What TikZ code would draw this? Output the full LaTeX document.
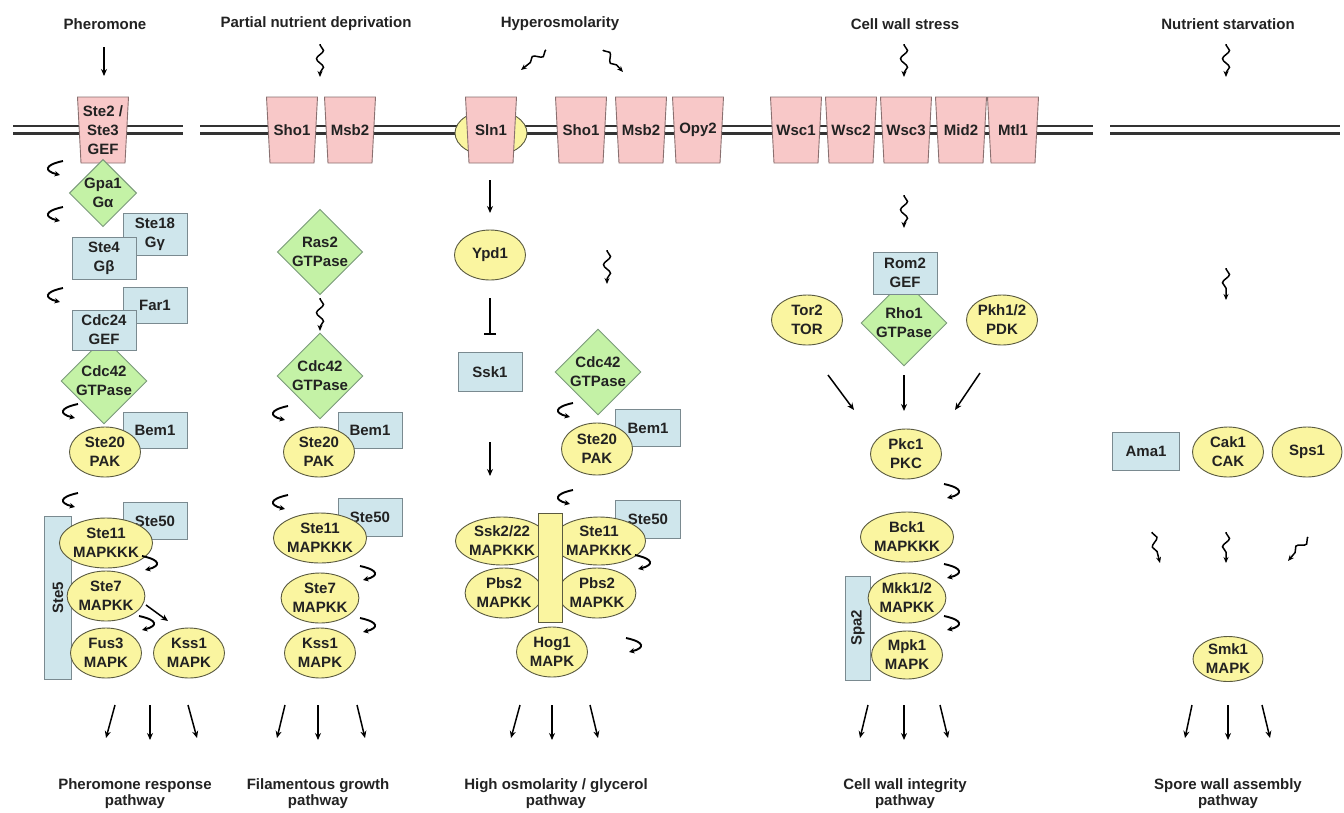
\documentclass[tikz,border=0pt]{standalone}
\usepackage{fontspec}
\usepackage{graphicx}
\setmainfont{Liberation Sans}
\usetikzlibrary{shapes.geometric,arrows.meta,decorations.pathmorphing}
\definecolor{pinkf}{HTML}{F8C8C8}
\definecolor{pinkd}{HTML}{8A7070}
\definecolor{greenf}{HTML}{C4F2A6}
\definecolor{greend}{HTML}{7A9A7A}
\definecolor{bluef}{HTML}{CFE6EC}
\definecolor{blued}{HTML}{7A8A90}
\definecolor{yelf}{HTML}{FAF5A0}
\definecolor{yeld}{HTML}{5A5A40}
\definecolor{txt}{HTML}{222222}
\definecolor{memb}{HTML}{333333}
\newcommand{\recep}[3]{%
  \filldraw[fill=pinkf, draw=pinkd, line width=0.9pt] (#2-25.5,97) -- (#2+25.5,97) -- (#2+22,163) -- (#2-22,163) -- cycle;
  \node[align=center, inner sep=0pt] (#1) at (#2,130) {#3};}
\begin{document}
\begin{tikzpicture}[x=1pt,y=-1pt,
  font=\fontsize{15}{19}\selectfont\bfseries, text=txt,
  gtp/.style={diamond, minimum width=64pt, minimum height=64pt, fill=greenf, draw=greend, line width=0.9pt, inner sep=0pt, align=center},
  bx/.style={rectangle, minimum width=64pt, minimum height=38pt, fill=bluef, draw=blued, line width=0.9pt, inner sep=0pt, align=center},
  kin/.style={ellipse, minimum width=71pt, minimum height=50pt, fill=yelf, draw=yeld, line width=0.9pt, inner sep=0pt, align=center},
  arr/.style={line width=1.5pt, -{Stealth[length=7pt,width=6pt]}},
  wav/.style={line width=1.5pt, decorate, decoration={snake, amplitude=3.5pt, segment length=17pt, pre length=1pt, post length=4pt}, -{Stealth[length=6pt,width=5pt]}},
  inh/.style={line width=1.5pt, -{Bar[width=12pt,line width=1.6pt]}},
  hk/.style={line width=1.9pt, -{Stealth[length=5.5pt,width=5.5pt]}},
  ttl/.style={align=center, font=\fontsize{15}{16}\selectfont\bfseries},
  hookl/.pic={\draw[hk] (8,-7) .. controls (-11,-3) and (-11,3) .. (5,7);},
  hookr/.pic={\draw[hk] (-8,-7) .. controls (11,-3) and (11,3) .. (-5,7);}
]
\useasboundingbox (0,0) rectangle (1344,812);
\fill[white] (0,0) rectangle (1344,812);

% titles
\node (tPher) at (105,24) {Pheromone};
\node (tPart) at (316,24) {Partial nutrient deprivation};
\node (tHyp) at (560,24) {Hyperosmolarity};
\node (tCws) at (905,24) {Cell wall stress};
\node (tNut) at (1228,24) {Nutrient starvation};

% bottom labels
\node[ttl] (bPher) at (135,794) {Pheromone response\\pathway};
\node[ttl] (bFil) at (318,794) {Filamentous growth\\pathway};
\node[ttl] (bHog) at (556,794) {High osmolarity / glycerol\\pathway};
\node[ttl] (bCwi) at (905,794) {Cell wall integrity\\pathway};
\node[ttl] (bSpo) at (1228,794) {Spore wall assembly\\pathway};

% membrane
\foreach \a/\b in {13/183, 200/1093, 1110/1340} {
  \draw[line width=2pt, memb] (\a,126) -- (\b,126);
  \draw[line width=3.2pt, memb] (\a,133.5) -- (\b,133.5);
}

% receptors
\recep{ste2}{103}{Ste2 /\\Ste3\\GEF}
\recep{sho1a}{292}{Sho1}
\recep{msb2a}{350}{Msb2}
\node[ellipse, fill=yelf, draw=yeld, line width=0.9pt, minimum width=72pt, minimum height=46pt, inner sep=0pt] (sln1bg) at (491,133) {};
\recep{sln1}{491}{Sln1}
\recep{sho1b}{581}{Sho1}
\recep{msb2b}{641}{Msb2}
\recep{opy2}{698}{Opy2}
\recep{wsc1}{796}{Wsc1}
\recep{wsc2}{851}{Wsc2}
\recep{wsc3}{906}{Wsc3}
\recep{mid2}{961}{Mid2}
\recep{mtl1}{1013}{Mtl1}

% stimulus arrows
\coordinate (s1a) at (104,47); \coordinate (s1b) at (104,76);
\draw[arr] (s1a) -- (s1b);
\coordinate (s2a) at (320,44); \coordinate (s2b) at (320,77);
\draw[wav] (s2a) -- (s2b);
\coordinate (s3a) at (546,50); \coordinate (s3b) at (521,70);
\draw[wav] (s3a) -- (s3b);
\coordinate (s4a) at (603,50); \coordinate (s4b) at (623,72);
\draw[wav] (s4a) -- (s4b);
\coordinate (s5a) at (904,44); \coordinate (s5b) at (904,77);
\draw[wav] (s5a) -- (s5b);
\coordinate (s6a) at (1226,44); \coordinate (s6b) at (1226,77);
\draw[wav] (s6a) -- (s6b);

% ---------------- pheromone pathway
\node[gtp, minimum height=60pt] (gpa1) at (103,193) {Gpa1\\Gα};
\node[bx, minimum height=42pt] (ste18) at (155,234) {Ste18\\Gγ};
\node[bx, minimum height=42pt] (ste4) at (104,258) {Ste4\\Gβ};
\node[bx, minimum height=36pt] (far1) at (155,305) {Far1};
\node[gtp, minimum height=62pt] (cdc42a) at (104,381) {Cdc42\\GTPase};
\node[bx, minimum height=40pt] (cdc24) at (104,330) {Cdc24\\GEF};
\node[bx, minimum height=36pt] (bem1a) at (155,430) {Bem1};
\node[kin] (ste20a) at (105,452) {Ste20\\PAK};
\node[bx, minimum height=37pt] (ste50a) at (155,521) {Ste50};
\node[bx, minimum width=27pt, minimum height=163pt] (ste5) at (58,598) {\rotatebox{90}{Ste5}};
\node[kin] (ste11a) at (106,543) {Ste11\\MAPKKK};
\node[kin] (ste7a) at (106,596) {Ste7\\MAPKK};
\node[kin] (fus3) at (106,653) {Fus3\\MAPK};
\node[kin] (kss1a) at (189,653) {Kss1\\MAPK};
\coordinate (k1a) at (146,605); \coordinate (k1b) at (168,621);
\draw[arr] (k1a) -- (k1b);
\pic at (55,168) {hookl};
\pic at (55,214) {hookl};
\pic at (55,295) {hookl};
\pic at (70,411) {hookl};
\pic at (70,500) {hookl};
\pic at (150,563) {hookr};
\pic at (147,623) {hookr};
\coordinate (o1a) at (115,705); \coordinate (o1b) at (106,738);
\coordinate (o2a) at (150,705); \coordinate (o2b) at (150,740);
\coordinate (o3a) at (188,705); \coordinate (o3b) at (197,738);
\draw[arr] (o1a) -- (o1b); \draw[arr] (o2a) -- (o2b); \draw[arr] (o3a) -- (o3b);

% ---------------- filamentous growth
\node[gtp, minimum height=70pt] (ras2) at (320,252) {Ras2\\GTPase};
\coordinate (f1a) at (320,298); \coordinate (f1b) at (320,331);
\draw[wav] (f1a) -- (f1b);
\node[gtp, minimum height=70pt] (cdc42b) at (320,376) {Cdc42\\GTPase};
\node[bx, minimum height=36pt] (bem1b) at (370,430) {Bem1};
\node[kin] (ste20b) at (319,452) {Ste20\\PAK};
\node[bx, minimum height=38pt] (ste50b) at (370,517) {Ste50};
\node[kin] (ste11b) at (320,538) {Ste11\\MAPKKK};
\node[kin] (ste7b) at (320,598) {Ste7\\MAPKK};
\node[kin] (kss1b) at (320,653) {Kss1\\MAPK};
\pic at (280,413) {hookl};
\pic at (280,502) {hookl};
\pic at (368,573) {hookr};
\pic at (368,625) {hookr};
\coordinate (o4a) at (285,705); \coordinate (o4b) at (277,738);
\coordinate (o5a) at (318,705); \coordinate (o5b) at (318,740);
\coordinate (o6a) at (357,705); \coordinate (o6b) at (365,738);
\draw[arr] (o4a) -- (o4b); \draw[arr] (o5a) -- (o5b); \draw[arr] (o6a) -- (o6b);

% ---------------- HOG pathway
\coordinate (h1a) at (490,180); \coordinate (h1b) at (490,213);
\draw[arr] (h1a) -- (h1b);
\node[kin] (ypd1) at (490,255) {Ypd1};
\coordinate (h2a) at (490,298); \coordinate (h2b) at (490,335);
\draw[inh] (h2a) -- (h2b);
\node[bx, minimum height=39pt] (ssk1) at (490,372) {Ssk1};
\coordinate (h3a) at (490,442); \coordinate (h3b) at (490,476);
\draw[arr] (h3a) -- (h3b);
\coordinate (h4a) at (607,250); \coordinate (h4b) at (607,284);
\draw[wav] (h4a) -- (h4b);
\node[gtp, minimum width=63pt, minimum height=70pt] (cdc42c) at (598,372) {Cdc42\\GTPase};
\node[bx, minimum width=65pt, minimum height=37pt] (bem1c) at (648,428) {Bem1};
\node[kin, minimum height=52pt] (ste20c) at (597,449) {Ste20\\PAK};
\node[bx, minimum width=65pt, minimum height=38pt] (ste50c) at (648,519) {Ste50};
\node[kin, minimum height=48pt] (ssk2) at (502,541) {Ssk2/22\\MAPKKK};
\node[kin, minimum height=48pt] (ste11c) at (599,541) {Ste11\\MAPKKK};
\node[kin] (pbs2a) at (504,593) {Pbs2\\MAPKK};
\node[kin] (pbs2b) at (597,593) {Pbs2\\MAPKK};
\node[fill=yelf, draw=yeld, line width=0.9pt, minimum width=24pt, minimum height=109pt, inner sep=0pt] (scaf) at (550,568) {};
\node[kin] (hog1) at (552,652) {Hog1\\MAPK};
\pic at (565,410) {hookl};
\pic at (565,497) {hookl};
\pic at (643,562) {hookr};
\pic at (634,645) {hookr};
\coordinate (o7a) at (520,705); \coordinate (o7b) at (511,738);
\coordinate (o8a) at (552,705); \coordinate (o8b) at (552,740);
\coordinate (o9a) at (590,705); \coordinate (o9b) at (598,738);
\draw[arr] (o7a) -- (o7b); \draw[arr] (o8a) -- (o8b); \draw[arr] (o9a) -- (o9b);

% ---------------- cell wall integrity
\coordinate (c1a) at (904,195); \coordinate (c1b) at (904,228);
\draw[wav] (c1a) -- (c1b);
\node[gtp, minimum width=65pt, minimum height=65pt] (rho1) at (904,323) {Rho1\\GTPase};
\node[bx, minimum height=42pt] (rom2) at (905,273) {Rom2\\GEF};
\node[kin] (tor2) at (807,320) {Tor2\\TOR};
\node[kin] (pkh) at (1002,320) {Pkh1/2\\PDK};
\coordinate (c2a) at (828,375); \coordinate (c2b) at (854,410);
\coordinate (c3a) at (904,375); \coordinate (c3b) at (904,411);
\coordinate (c4a) at (980,373); \coordinate (c4b) at (955,410);
\draw[arr] (c2a) -- (c2b); \draw[arr] (c3a) -- (c3b); \draw[arr] (c4a) -- (c4b);
\node[kin] (pkc1) at (906,454) {Pkc1\\PKC};
\node[kin] (bck1) at (907,537) {Bck1\\MAPKKK};
\node[bx, minimum width=25pt, minimum height=104pt] (spa2) at (858,628) {\rotatebox{90}{Spa2}};
\node[kin] (mkk) at (907,598) {Mkk1/2\\MAPKK};
\node[kin, minimum height=48pt] (mpk1) at (907,655) {Mpk1\\MAPK};
\pic at (952,491) {hookr};
\pic at (952,571) {hookr};
\pic at (952,623) {hookr};
\coordinate (o10a) at (868,705); \coordinate (o10b) at (860,738);
\coordinate (o11a) at (904,705); \coordinate (o11b) at (904,740);
\coordinate (o12a) at (940,705); \coordinate (o12b) at (948,738);
\draw[arr] (o10a) -- (o10b); \draw[arr] (o11a) -- (o11b); \draw[arr] (o12a) -- (o12b);

% ---------------- spore wall assembly
\coordinate (n1a) at (1226,268); \coordinate (n1b) at (1226,300);
\draw[wav] (n1a) -- (n1b);
\node[bx, minimum width=67pt, minimum height=38pt] (ama1) at (1146,451) {Ama1};
\node[kin] (cak1) at (1228,452) {Cak1\\CAK};
\node[kin, minimum width=70pt] (sps1) at (1307,452) {Sps1};
\coordinate (n2a) at (1152,532); \coordinate (n2b) at (1160,563);
\coordinate (n3a) at (1226,532); \coordinate (n3b) at (1226,563);
\coordinate (n4a) at (1308,537); \coordinate (n4b) at (1288,561);
\draw[wav] (n2a) -- (n2b); \draw[wav] (n3a) -- (n3b); \draw[wav] (n4a) -- (n4b);
\node[kin, minimum width=70pt, minimum height=45pt] (smk1) at (1228,659) {Smk1\\MAPK};
\coordinate (o13a) at (1192,705); \coordinate (o13b) at (1185,738);
\coordinate (o14a) at (1228,705); \coordinate (o14b) at (1228,740);
\coordinate (o15a) at (1262,705); \coordinate (o15b) at (1270,738);
\draw[arr] (o13a) -- (o13b); \draw[arr] (o14a) -- (o14b); \draw[arr] (o15a) -- (o15b);
\end{tikzpicture}
\end{document}
